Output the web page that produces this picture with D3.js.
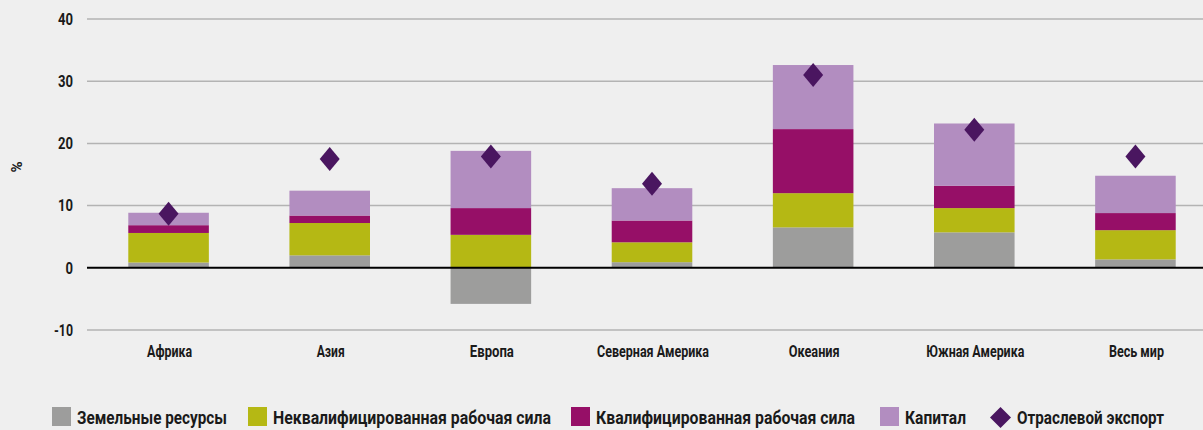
<!DOCTYPE html>
<html>
<head>
<meta charset="utf-8">
<script src="https://cdn.jsdelivr.net/npm/d3@7"></script>
<style>
  body { margin: 0; background: #efefef; }
  svg { display: block; font-family: Roboto, "Liberation Sans", sans-serif; font-weight: bold; }
</style>
</head>
<body>
<script>
var regions = ["Африка", "Азия", "Европа", "Северная Америка", "Океания", "Южная Америка", "Весь мир"];
var land      = [0.85, 2.0, -5.8, 0.9, 6.5, 5.7, 1.35];
var unskilled = [4.75, 5.2, 5.3, 3.2, 5.5, 3.9, 4.7];
var skilled   = [1.25, 1.2, 4.3, 3.5, 10.3, 3.6, 2.75];
var capital   = [2.0, 4.0, 9.2, 5.2, 10.3, 10.0, 6.0];
var exportVals = [8.7, 17.5, 17.9, 13.5, 31.0, 22.2, 17.9];
var yTicks = [-10, 0, 10, 20, 30, 40];

var seriesKeys = ["land", "unskilled", "skilled", "capital"];
var seriesNames = ["Земельные ресурсы", "Неквалифицированная рабочая сила", "Квалифицированная рабочая сила", "Капитал"];
var colors = ["#9d9d9c", "#b5b814", "#960f67", "#b28dc0"];
var exportName = "Отраслевой экспорт";
var diamondColor = "#4a1660";

// widths of the condensed labels as they appear in the original
var catWidths = [45, 28, 44, 112, 51, 98, 55];
var legendWidths = [150, 278, 259, 61, 147];

var width = 1203, height = 430;

var svg = d3.select('body').append('svg').attr('width', width).attr('height', height);

var rows = regions.map(function(r, i) {
  return { region: r, land: land[i], unskilled: unskilled[i], skilled: skilled[i], capital: capital[i], exp: exportVals[i] };
});

var x = d3.scaleBand().domain(regions).range([88, 1216]).paddingInner(0.5).paddingOuter(0.25);
var y = d3.scaleLinear().domain([-10, 40]).range([330, 19]);

// grid
svg.append("g").selectAll("line")
  .data(yTicks.filter(function(t) { return t !== 0; }))
  .enter().append("line")
    .attr("x1", 87).attr("x2", width)
    .attr("y1", function(d) { return y(d); }).attr("y2", function(d) { return y(d); })
    .attr("stroke", "#b3b3b3").attr("stroke-width", 1.5);

// y tick labels
svg.append("g").selectAll("text")
  .data(yTicks)
  .enter().append("text")
    .attr("x", 73).attr("y", function(d) { return y(d); })
    .attr("dy", "0.36em").attr("text-anchor", "end")
    .attr("font-size", 16).attr("fill", "#1a1a1a")
    .attr("textLength", function(d) { return d < 0 ? 19 : String(d).length * 7.5; })
    .attr("lengthAdjust", "spacingAndGlyphs")
    .text(function(d) { return d; });

svg.append("text")
  .attr("transform", "translate(22,167) rotate(-90)")
  .attr("text-anchor", "middle").attr("font-size", 15).attr("fill", "#1a1a1a")
  .text("%");

// stacked bars
var stack = d3.stack().keys(seriesKeys).offset(d3.stackOffsetDiverging);
var layers = stack(rows);

svg.append("g").selectAll("g")
  .data(layers)
  .enter().append("g")
    .attr("fill", function(d, i) { return colors[i]; })
  .selectAll("rect")
  .data(function(d) { return d; })
  .enter().append("rect")
    .attr("x", function(d) { return x(d.data.region); })
    .attr("width", x.bandwidth())
    .attr("y", function(d) { return y(Math.max(d[0], d[1])); })
    .attr("height", function(d) { return Math.abs(y(d[0]) - y(d[1])); });

// zero line
svg.append("line")
  .attr("x1", 87).attr("x2", width)
  .attr("y1", y(0)).attr("y2", y(0))
  .attr("stroke", "#000").attr("stroke-width", 2);

// export diamonds
function diamond(cx, cy, w, h) {
  return "M" + cx + "," + (cy - h) + "L" + (cx + w) + "," + cy + "L" + cx + "," + (cy + h) + "L" + (cx - w) + "," + cy + "Z";
}
svg.append("g").selectAll("path")
  .data(rows)
  .enter().append("path")
    .attr("d", function(d) { return diamond(x(d.region) + x.bandwidth() / 2, y(d.exp), 10, 12); })
    .attr("fill", diamondColor);

// category labels
svg.append("g").selectAll("text")
  .data(regions)
  .enter().append("text")
    .attr("x", function(d) { return x(d) + x.bandwidth() / 2 + 1; })
    .attr("y", 357).attr("text-anchor", "middle")
    .attr("font-size", 16).attr("fill", "#1a1a1a")
    .attr("textLength", function(d, i) { return catWidths[i]; })
    .attr("lengthAdjust", "spacingAndGlyphs")
    .text(function(d) { return d; });

// legend
var legendX = [52, 248, 571, 880];
var legend = svg.append("g");
seriesNames.forEach(function(name, i) {
  legend.append("rect")
    .attr("x", legendX[i]).attr("y", 407).attr("width", 19).attr("height", 19)
    .attr("fill", colors[i]);
  legend.append("text")
    .attr("x", legendX[i] + 25).attr("y", 424)
    .attr("font-size", 18).attr("fill", "#1a1a1a")
    .attr("textLength", legendWidths[i])
    .attr("lengthAdjust", "spacingAndGlyphs")
    .text(name);
});
legend.append("path")
  .attr("d", diamond(1000.5, 417.5, 10.5, 10.5))
  .attr("fill", diamondColor);
legend.append("text")
  .attr("x", 1017).attr("y", 424)
  .attr("font-size", 18).attr("fill", "#1a1a1a")
  .attr("textLength", legendWidths[4])
  .attr("lengthAdjust", "spacingAndGlyphs")
  .text(exportName);
</script>
</body>
</html>
